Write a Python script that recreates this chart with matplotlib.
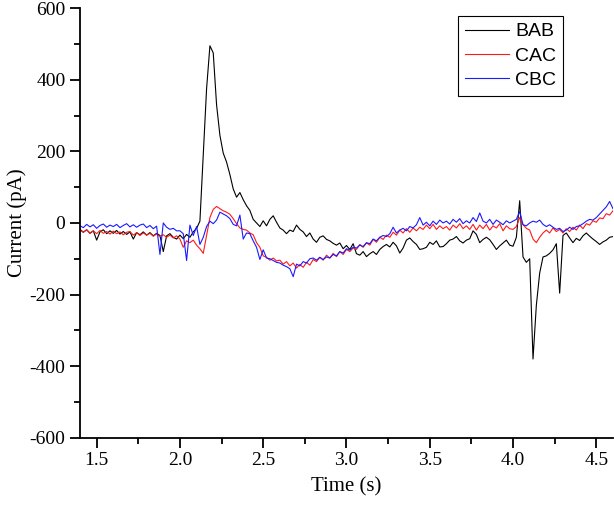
import numpy as np
import matplotlib
matplotlib.use("Agg")
import matplotlib.pyplot as plt
from matplotlib.ticker import MultipleLocator

plt.rcParams['font.family'] = ['Liberation Serif', 'DejaVu Serif']
plt.rcParams['axes.unicode_minus'] = False

# time grid (s), 0.02 s apart from 1.40 to 4.60
t_start, t_step, n_pts = 1.40, 0.02, 161

# current traces (pA), one row = 0.2 s
bab = [
    -18, -26, -19, -29, -22, -48, -25, -19, -30, -22,
    -29, -21, -31, -24, -32, -25, -45, -27, -33, -25,
    -34, -27, -36, -29, -35, -80, -36, -30, -40, -45,
    -34, -44, -32, -40, -25, -15, 5, 190, 375, 495,
    475, 330, 245, 195, 170, 135, 95, 72, 85, 65,
    48, 35, 10, 0, -10, 6, -8, 10, 20, 2,
    -14, -20, -30, -20, -24, -6, -18, -25, -38, -28,
    -45, -54, -40, -36, -46, -50, -57, -62, -56, -72,
    -63, -74, -58, -86, -90, -80, -94, -86, -80, -88,
    -74, -66, -60, -67, -54, -64, -84, -70, -48, -42,
    -52, -60, -74, -72, -68, -54, -60, -50, -67, -66,
    -58, -48, -45, -38, -50, -56, -48, -44, -22, -32,
    -55, -46, -40, -47, -60, -74, -64, -56, -48, -62,
    -65, -40, 62, -95, -110, -100, -380, -230, -140, -95,
    -92, -85, -75, -58, -196, -35, -28, -42, -55, -43,
    -49, -36, -28, -37, -45, -52, -60, -53, -48, -40,
    -38,
]

cac = [
    -20, -26, -19, -28, -22, -30, -21, -29, -24, -31,
    -23, -30, -25, -33, -26, -24, -34, -27, -35, -28,
    -34, -29, -37, -31, -38, -33, -40, -34, -42, -36,
    -45, -68, -50, -55, -48, -62, -72, -85, -35, 15,
    38, 46, 40, 34, 30, 24, 12, -2, -14, -18,
    -20, -28, -33, -55, -68, -92, -96, -104, -98, -106,
    -104, -115, -108, -120, -112, -126, -116, -124, -110, -118,
    -102, -108, -96, -104, -90, -98, -85, -94, -80, -88,
    -74, -80, -70, -74, -60, -68, -56, -62, -46, -54,
    -40, -46, -34, -40, -26, -34, -20, -28, -16, -26,
    -14, -22, -12, -18, -6, -16, -4, -18, -8, -16,
    -10, -20, -6, -14, -2, -16, -8, -18, -4, -20,
    -6, -16, -4, -20, -8, -14, -2, -22, -8, -16,
    -18, -10, 15, -5, -15, -20, -45, -55, -40, -28,
    -20, -28, -14, -24, -18, -28, -16, -24, -12, -20,
    -6, -16, -2, -6, 6, 2, 14, 12, 26, 22,
    34,
]

cbc = [
    -8, -13, -4, -11, -5, -15, -7, -3, -12, -6,
    -10, -4, -13, -7, -2, -11, -5, -12, -6, -3,
    -13, -7, -16, -9, -88, 0, -12, -18, -15, -22,
    -22, -30, -105, -6, -35, -10, -60, -40, -10, 5,
    -2, 8, 30, 25, 20, 12, -4, -8, 22, -45,
    -28, -30, -50, -68, -102, -75, -98, -100, -105, -110,
    -112, -118, -122, -128, -150, -115, -120, -108, -112, -100,
    -98, -104, -96, -102, -95, -98, -88, -92, -80, -84,
    -72, -76, -68, -70, -62, -66, -55, -58, -45, -50,
    -40, -35, -38, -30, -12, -28, -20, -15, -22, -10,
    -14, -5, 15, -6, 2, -8, 5, -4, 8, 0,
    5, -3, 10, 2, 12, -2, 6, 0, 15, 4,
    28, 5, 0, 10, -4, 8, 2, -5, 6, 0,
    5, 10, 32, -5, -8, 0, 5, 2, 8, -4,
    -10, -5, -12, -18, -15, -24, -20, -12, -18, -10,
    -8, -2, 5, 10, 8, 15, 25, 35, 45, 60,
    40,
]

t = t_start + t_step * np.arange(n_pts)

fig = plt.figure(figsize=(6.14, 5.11), dpi=100)
ax = fig.add_axes([0.1303, 0.1434, 0.868, 0.8406])

ax.plot(t, bab, color='black', lw=0.8, label='BAB')
ax.plot(t, cac, color='#ff1a1a', lw=0.8, label='CAC')
ax.plot(t, cbc, color='#1a1aff', lw=0.8, label='CBC')

ax.set_xlim(1.4, 4.6)
ax.set_ylim(-600, 600)
ax.xaxis.set_major_locator(MultipleLocator(0.5))
ax.xaxis.set_minor_locator(MultipleLocator(0.25))
ax.yaxis.set_major_locator(MultipleLocator(200))
ax.yaxis.set_minor_locator(MultipleLocator(100))
ax.xaxis.set_major_formatter(plt.FormatStrFormatter('%.1f'))
ax.yaxis.set_major_formatter(plt.FormatStrFormatter('%d'))

for s in ['top', 'right']:
    ax.spines[s].set_visible(False)
for s in ['left', 'bottom']:
    ax.spines[s].set_linewidth(1.3)

ax.tick_params(which='major', direction='out', length=7, width=1.3, labelsize=14)
ax.tick_params(which='minor', direction='out', length=4, width=1.3)

ax.set_xlabel('Time (s)', fontsize=15, labelpad=6)
ax.set_ylabel('Current (pA)', fontsize=15, labelpad=2)

leg = ax.legend(loc='upper right', bbox_to_anchor=(563 / 614, 1 - 16 / 511),
                bbox_transform=fig.transFigure, borderaxespad=0,
                fancybox=False, edgecolor='black', framealpha=1,
                prop={'family': 'Liberation Sans', 'size': 14},
                handlelength=2.3, handletextpad=0.3, labelspacing=0.35,
                borderpad=0.35)
leg.get_frame().set_linewidth(0.8)

fig.savefig('out.png', dpi=100)
